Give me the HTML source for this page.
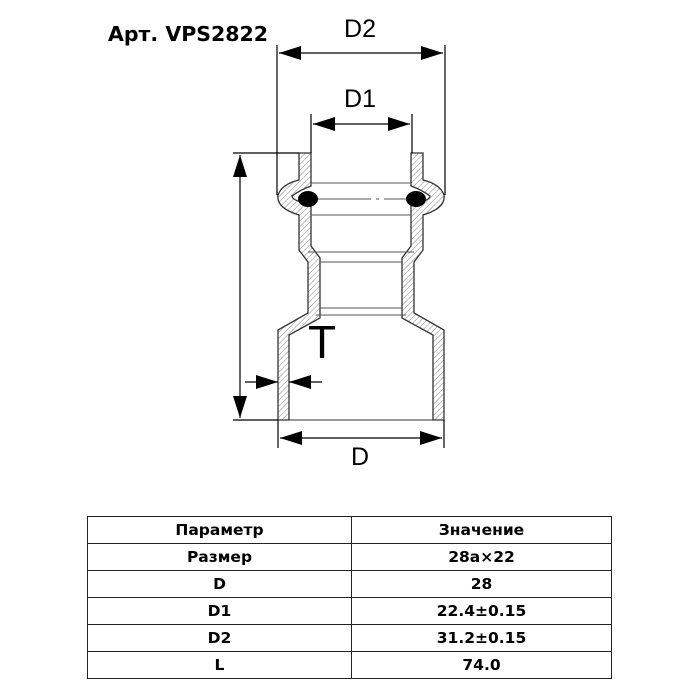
<!DOCTYPE html>
<html><head><meta charset="utf-8"><style>
body{margin:0;background:#fff;width:700px;height:700px;overflow:hidden;font-family:"Liberation Sans","DejaVu Sans",sans-serif}
table{position:absolute;left:87px;top:516px;width:525px;border-collapse:collapse;font-family:"DejaVu Sans",sans-serif;font-weight:bold;font-size:15.5px}
td{border:1px solid #222;height:26px;padding:0;text-align:center;vertical-align:middle}
</style></head><body>
<svg width="700" height="700" style="position:absolute;left:0;top:0">
<defs>
<pattern id="h" width="4" height="4" patternUnits="userSpaceOnUse" patternTransform="rotate(45)">
<rect width="4" height="4" fill="#fff"/><line x1="0" y1="0" x2="0" y2="4" stroke="#888" stroke-width="1"/></pattern>
<marker id="a" markerWidth="22" markerHeight="14" refX="22" refY="7" orient="auto-start-reverse" markerUnits="userSpaceOnUse"><path d="M0,0 L22,7 L0,14Z" fill="#000"/></marker>
</defs>
<text x="108" y="41" font-family="DejaVu Sans, sans-serif" font-weight="bold" font-size="20.5">Арт. VPS2822</text>
<g fill="url(#h)" stroke="#333" stroke-width="1.3">
<path d="M299,153 L311,153 L311,186 Q300,190 292,196 Q292,201 311,204 L311,246 L320,258 L320,318 L289,335 L289,420 L278,420 L278,330 L308,313 L308,262 L299,250 L299,215 Q276,208 278,195 Q282,184 299,180 Z"/>
<path d="M423,153 L411,153 L411,186 Q422,190 430,196 Q430,201 411,204 L411,246 L402,258 L402,318 L433,335 L433,420 L444,420 L444,330 L414,313 L414,262 L423,250 L423,215 Q446,208 444,195 Q440,184 423,180 Z"/>
</g>
<g stroke="#555" stroke-width="1" fill="none">
<line x1="311" y1="183" x2="411" y2="183"/>
<line x1="311" y1="215" x2="411" y2="215"/>
<line x1="308" y1="252" x2="414" y2="252"/>
<line x1="320" y1="262" x2="402" y2="262"/>
<line x1="320" y1="308" x2="402" y2="308"/>
<line x1="316" y1="315" x2="406" y2="315"/>
<line x1="311" y1="199" x2="411" y2="199" stroke-dasharray="60,5,3,5"/>
<line x1="278" y1="420" x2="444" y2="420" stroke="#333"/>
</g>
<ellipse cx="308" cy="199" rx="10" ry="8"/>
<ellipse cx="416" cy="199" rx="10" ry="8"/>
<g stroke="#000" stroke-width="1.2">
<line x1="233" y1="153" x2="299" y2="153"/>
<line x1="233" y1="420" x2="278" y2="420"/>
<line x1="240" y1="155" x2="240" y2="418" marker-start="url(#a)" marker-end="url(#a)"/>
<line x1="277" y1="45" x2="277" y2="195"/>
<line x1="445" y1="45" x2="445" y2="195"/>
<line x1="279" y1="53" x2="443" y2="53" marker-start="url(#a)" marker-end="url(#a)"/>
<line x1="311" y1="114" x2="311" y2="153"/>
<line x1="412" y1="114" x2="412" y2="153"/>
<line x1="313" y1="124" x2="410" y2="124" marker-start="url(#a)" marker-end="url(#a)"/>
<line x1="278" y1="420" x2="278" y2="448"/>
<line x1="444" y1="420" x2="444" y2="448"/>
<line x1="280" y1="438" x2="442" y2="438" marker-start="url(#a)" marker-end="url(#a)"/>
<line x1="245" y1="382" x2="278" y2="382" marker-end="url(#a)"/>
<line x1="322" y1="382" x2="289" y2="382" marker-end="url(#a)"/>
</g>
<g font-family="Liberation Sans, DejaVu Sans, sans-serif" font-size="25" text-anchor="middle">
<text x="360" y="37">D2</text>
<text x="360" y="107">D1</text>
<text x="360" y="465">D</text>
<text x="322" y="358" font-size="46">T</text>
</g>
</svg>
<table>
<tr><td style="width:263px">Параметр</td><td>Значение</td></tr>
<tr><td>Размер</td><td>28a×22</td></tr>
<tr><td>D</td><td>28</td></tr>
<tr><td>D1</td><td>22.4±0.15</td></tr>
<tr><td>D2</td><td>31.2±0.15</td></tr>
<tr><td>L</td><td>74.0</td></tr>
</table>
</body></html>
